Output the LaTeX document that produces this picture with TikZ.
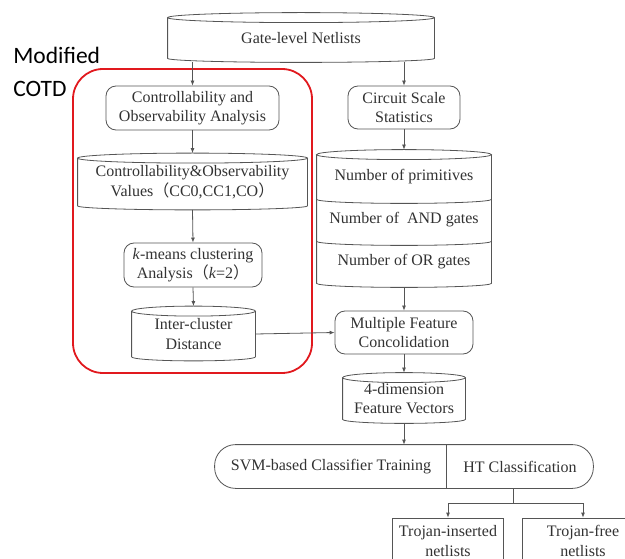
\documentclass[tikz,border=0pt]{standalone}
\usepackage{fontspec}
\setmainfont{Liberation Serif}
\newfontfamily\labelfont{Carlito}
\newfontfamily\cjk{Noto Sans CJK SC}
\usetikzlibrary{calc,arrows.meta}
\definecolor{lineg}{RGB}{85,85,85}
\definecolor{textg}{RGB}{50,50,50}
\definecolor{myred}{RGB}{225,25,30}

% cylinder outline around a (borderless) node: top ellipse on north, arc at the bottom
\newcommand{\storeshape}[1]{%
    \draw let \p1 = (#1.north west), \p2 = (#1.south east), \n1 = {(\x2-\x1)/2} in
        (#1.north) ellipse[x radius=\n1, y radius=5pt]
        (#1.north west) -- (#1.south west)
        arc[start angle=180, end angle=360, x radius=\n1, y radius=4pt]
        -- (#1.north east);
}
% lower arc of a slice in the stacked store
\newcommand{\slicearc}[1]{%
    \draw let \p1 = (#1.south west), \p2 = (#1.south east), \n1 = {(\x2-\x1)/2} in
        (#1.south west) arc[start angle=180, end angle=360, x radius=\n1, y radius=4pt];
}

\begin{document}
\begin{tikzpicture}[x=1pt, y=-1pt,
    every node/.style={text=textg, font=\fontsize{16pt}{19.5pt}\selectfont, align=center, inner sep=0pt},
    every path/.style={color=lineg, line width=0.8pt},
    >={Latex[length=5pt, width=4pt]},
    proc/.style={draw, rounded corners=10pt},
    store/.style={draw=none},
    resultbox/.style={draw}]
    \useasboundingbox (0, 0) rectangle (625, 559);

    % stores and processes
    \node[store, minimum width=266, minimum height=40] (gate) at (301, 38) {Gate-level Netlists};
    \node[proc, minimum width=173, minimum height=44] (ctrl) at (192.5, 108)
        {Controllability and\\Observability Analysis};
    \node[store, minimum width=229, minimum height=47] (cov) at (192.5, 182)
        {Controllability\&Observability\\Values{\cjk （}CC0,CC1,CO{\cjk ）}};
    \node[proc, minimum width=138, minimum height=44] (kmeans) at (193, 265)
        {\textit{k}-means clustering\\Analysis{\cjk （}\textit{k}=2{\cjk ）}};
    \node[store, minimum width=123, minimum height=45] (dist) at (193.5, 334)
        {Inter-cluster\\Distance};

    \node[proc, minimum width=112, minimum height=43] (scale) at (404, 107.5)
        {Circuit Scale\\Statistics};
    \node[store, minimum width=174, minimum height=44] (prim) at (404, 177) {Number of primitives};
    \node[store, minimum width=174, minimum height=42] (andg) at (404, 220) {Number of~~AND gates};
    \node[store, minimum width=174, minimum height=42] (org) at (404, 262) {Number of OR gates};
    \node[proc, minimum width=138, minimum height=43] (mfc) at (404, 332.5)
        {Multiple Feature\\Concolidation};
    \node[store, minimum width=122, minimum height=41] (vec) at (404, 398.5)
        {4-dimension\\Feature Vectors};

    \node[minimum width=232, minimum height=43] (train) at (331, 466.5) {SVM-based Classifier Training};
    \node[minimum width=146, minimum height=43] (htc) at (520, 466.5) {HT Classification};
    \node[resultbox, minimum width=111, minimum height=46] (tins) at (448, 541) {Trojan-inserted\\netlists};
    \node[resultbox, minimum width=122, minimum height=46] (tfree) at (583, 541) {Trojan-free\\netlists};

    \storeshape{gate}
    \storeshape{cov}
    \storeshape{dist}
    \storeshape{vec}
    % stacked store with three slices
    \draw let \p1 = (prim.north west), \p2 = (prim.north east), \n1 = {(\x2-\x1)/2} in
        (prim.north) ellipse[x radius=\n1, y radius=5pt]
        (prim.north west) -- (org.south west)
        arc[start angle=180, end angle=360, x radius=\n1, y radius=4pt]
        -- (prim.north east);
    \slicearc{prim}
    \slicearc{andg}
    \draw[rounded corners=21pt] (train.north west) rectangle (htc.south east);
    \draw (htc.north west) -- (htc.south west);

    % modified COTD block
    \draw[myred, line width=1.8pt, rounded corners=30pt] (73, 69) rectangle (312, 373);
    \node[anchor=north west, align=left, text=black, font=\labelfont\fontsize{23.5pt}{33pt}\selectfont]
        (cotd) at (13, 47) {Modified\\COTD};

    % flow
    \draw[->] (gate.south -| ctrl.north) ++(0, 4) -- (ctrl.north);
    \draw[->] (gate.south -| scale.north) ++(0, 4) -- (scale.north);
    \draw[->] (ctrl.south) -- ($(cov.north) + (0, -5)$);
    \draw[->] ($(cov.south) + (0, 4)$) -- (kmeans.north);
    \draw[->] (kmeans.south) -- ($(dist.north) + (0, -5)$);
    \draw[->] (scale.south) -- ($(prim.north) + (0, -5)$);
    \draw[->] ($(org.south) + (0, 4)$) -- (mfc.north);
    \draw[->] (dist.east) -- (mfc.west);
    \draw[->] (mfc.south) -- ($(vec.north) + (0, -5)$);
    \draw[->] ($(vec.south) + (0, 4)$) -- (train.north -| vec.south);
    \coordinate (split) at (513, 503);
    \draw (split |- htc.south) -- (split);
    \draw[->] (split) -| (tins.north);
    \draw[->] (split) -| (tfree.north);
\end{tikzpicture}
\end{document}
